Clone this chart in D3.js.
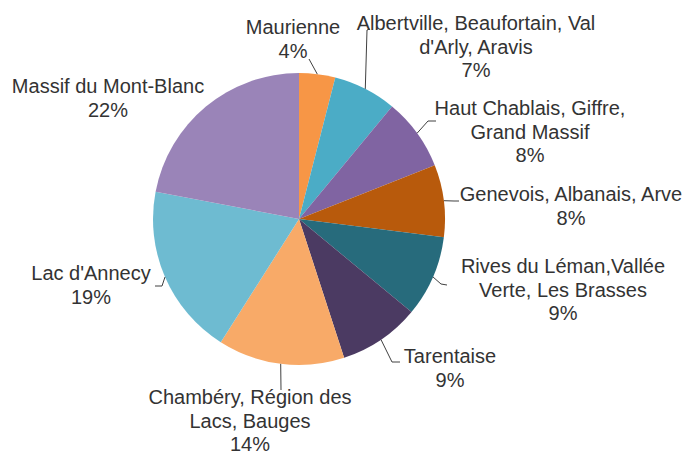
<!DOCTYPE html>
<html>
<head>
<meta charset="utf-8">
<script src="https://cdn.jsdelivr.net/npm/d3@7"></script>
<style>
  body { margin: 0; background: #fff; }
  text { font-family: "Liberation Sans", Arial, sans-serif; font-size: 20px; fill: #333; }
</style>
</head>
<body>
<svg id="chart" width="685" height="455"></svg>
<script>
// data, clockwise from 12 o'clock
const regions = [
  ["Maurienne"],
  ["Albertville, Beaufortain, Val", "d'Arly, Aravis"],
  ["Haut Chablais, Giffre,", "Grand Massif"],
  ["Genevois, Albanais, Arve"],
  ["Rives du Léman,Vallée", "Verte, Les Brasses"],
  ["Tarentaise"],
  ["Chambéry, Région des", "Lacs, Bauges"],
  ["Lac d'Annecy"],
  ["Massif du Mont-Blanc"]
];
const shares = [4, 7, 8, 8, 9, 9, 14, 19, 22];
const colors = ["#F79646", "#4BACC6", "#8064A2", "#B85A0C", "#276B7C",
                "#4B3A62", "#F8AA68", "#6EBBD1", "#9A84B8"];

// label layout: anchor x, first baseline y, leader path (elbow, end) or null
const layout = [
  {x: 293, y: 34,  lead: [[309, 59]]},
  {x: 476, y: 30,  lead: [[367, 30], [370, 29]]},
  {x: 530, y: 115, lead: [[428, 121], [436, 121]]},
  {x: 571, y: 201, lead: [[454, 201], [459, 201]]},
  {x: 563, y: 273, lead: [[441, 284], [447, 285]]},
  {x: 450, y: 363, lead: [[392, 362], [400, 362]]},
  {x: 250, y: 404, lead: [[281, 390]]},
  {x: 91,  y: 280, lead: [[162, 286], [155, 286]]},
  {x: 108, y: 93,  lead: null}
];
const lineGap = 23.5;

const cx = 299, cy = 219, r = 146;
const svg = d3.select("#chart");
const g = svg.append("g").attr("transform", `translate(${cx},${cy})`);

const pie = d3.pie().sort(null).value(d => d);
const arcs = pie(shares);
const arc = d3.arc().innerRadius(0).outerRadius(r);

g.selectAll("path.slice")
  .data(arcs)
  .enter()
  .append("path")
  .attr("class", "slice")
  .attr("d", arc)
  .attr("fill", (d, i) => colors[i]);

// leader lines
const line = d3.line();
arcs.forEach((a, i) => {
  const L = layout[i];
  if (!L.lead) return;
  const mid = (a.startAngle + a.endAngle) / 2;
  const start = [cx + r * Math.sin(mid), cy - r * Math.cos(mid)];
  svg.append("path")
    .attr("d", line([start].concat(L.lead)))
    .attr("fill", "none")
    .attr("stroke", "#404040")
    .attr("stroke-width", 1);
});

// labels
const fmt = d3.format(".0%");
const total = d3.sum(shares);
regions.forEach((lines, i) => {
  const L = layout[i];
  const t = svg.append("text").attr("text-anchor", "middle");
  lines.concat([fmt(shares[i] / total)]).forEach((s, j) => {
    t.append("tspan").attr("x", L.x).attr("y", L.y + j * lineGap).text(s);
  });
});
</script>
</body>
</html>
